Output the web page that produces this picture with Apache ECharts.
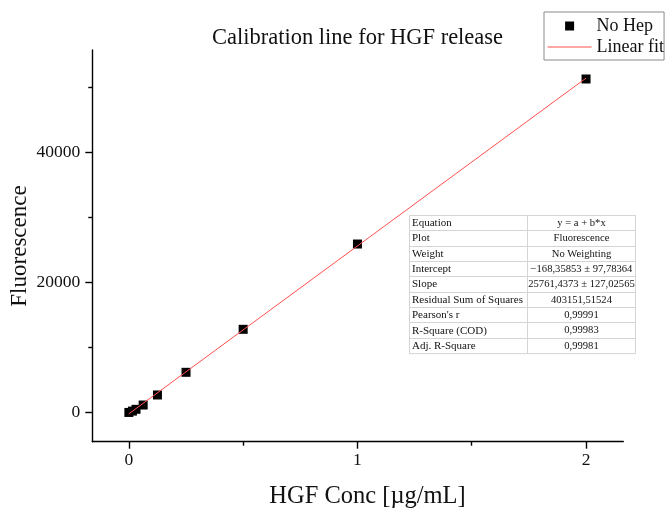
<!DOCTYPE html>
<html>
<head>
<meta charset="utf-8">
<script src="https://cdn.jsdelivr.net/npm/echarts@6/dist/echarts.min.js"></script>
<style>
  html, body { margin: 0; padding: 0; background: #fff; }
  #chart { width: 665px; height: 513px; }
</style>
</head>
<body>
<div id="chart"></div>
<script>
// Standard dilution series (µg/mL) and measured fluorescence
const conc = [0, 0.015625, 0.03125, 0.0625, 0.125, 0.25, 0.5, 1, 2];
const fluorescence = [40, 250, 520, 1180, 2720, 6200, 12800, 25890, 51220];

// Linear fit parameters y = a + b*x
const fitIntercept = -168.35853;
const fitSlope = 25761.4373;
const fitRange = [0, 2];

// Axis ticks
const xMajorTicks = [0, 1, 2];
const xMinorTicks = [0.5, 1.5];
const yMajorTicks = [0, 20000, 40000];
const yMinorTicks = [10000, 30000, 50000];

// Fit statistics table
const statNames = ['Equation', 'Plot', 'Weight', 'Intercept', 'Slope',
  'Residual Sum of Squares', "Pearson's r", 'R-Square (COD)', 'Adj. R-Square'];
const statValues = ['y = a + b*x', 'Fluorescence', 'No Weighting',
  '\u2212168,35853 \u00b1 97,78364', '25761,4373 \u00b1 127,02565',
  '403151,51524', '0,99991', '0,99983', '0,99981'];

const FONT = '"Liberation Serif", "DejaVu Serif", serif';
const FIT_COLOR = '#ff5050';

const scatterData = conc.map((x, i) => [x, fluorescence[i]]);
const fitData = fitRange.map(x => [x, fitIntercept + fitSlope * x]);

// Table drawn as a graphic group
const tbl = { x: 409, y: 215, w: 226, col: 118, rowH: 15.35 };
const tableChildren = [];
tableChildren.push({
  type: 'rect',
  shape: { x: tbl.x + 0.5, y: tbl.y + 0.5, width: tbl.w, height: tbl.rowH * statNames.length },
  style: { fill: '#fff', stroke: '#d4d4d4', lineWidth: 1 }
});
for (let i = 1; i < statNames.length; i++) {
  const yy = Math.round(tbl.y + i * tbl.rowH) + 0.5;
  tableChildren.push({
    type: 'line',
    shape: { x1: tbl.x, y1: yy, x2: tbl.x + tbl.w, y2: yy },
    style: { stroke: '#d4d4d4', lineWidth: 1 }
  });
}
tableChildren.push({
  type: 'line',
  shape: { x1: tbl.x + tbl.col + 0.5, y1: tbl.y, x2: tbl.x + tbl.col + 0.5, y2: tbl.y + tbl.rowH * statNames.length },
  style: { stroke: '#d4d4d4', lineWidth: 1 }
});
statNames.forEach((name, i) => {
  const cy = tbl.y + (i + 0.5) * tbl.rowH + 0.5;
  tableChildren.push({
    type: 'text', x: tbl.x + 3, y: cy,
    style: { text: name, font: '11px ' + FONT, fill: '#111', textVerticalAlign: 'middle', textAlign: 'left' }
  });
  tableChildren.push({
    type: 'text', x: tbl.x + tbl.col + (tbl.w - tbl.col) / 2 + 0.5, y: cy,
    style: { text: statValues[i], font: '10.6px ' + FONT, fill: '#111', textVerticalAlign: 'middle', textAlign: 'center' }
  });
});

const chart = echarts.init(document.getElementById('chart'), null, { renderer: 'canvas' });

const xRange = { min: -0.16, max: 2.163 };
const yRange = { min: -4450, max: 55670 };
const plainNumber = v => String(v);

chart.setOption({
  animation: false,
  backgroundColor: '#fff',
  grid: { left: 92.3, right: 41.7, top: 50, bottom: 71.3, containLabel: false },
  xAxis: [
    {
      type: 'value', position: 'bottom', min: xRange.min, max: xRange.max,
      splitLine: { show: false },
      axisLine: { show: true, onZero: false, lineStyle: { color: '#000', width: 1.4 } },
      axisTick: { show: true, inside: false, length: 7, customValues: xMajorTicks, lineStyle: { color: '#000', width: 1.4 } },
      axisLabel: { show: true, margin: 10, customValues: xMajorTicks, formatter: plainNumber, color: '#111', fontFamily: FONT, fontSize: 17.5 }
    },
    {
      type: 'value', position: 'bottom', min: xRange.min, max: xRange.max,
      splitLine: { show: false },
      axisLine: { show: false, onZero: false },
      axisTick: { show: true, length: 4, customValues: xMinorTicks, lineStyle: { color: '#000', width: 1.4 } },
      axisLabel: { show: false }
    }
  ],
  yAxis: [
    {
      type: 'value', position: 'left', min: yRange.min, max: yRange.max,
      splitLine: { show: false },
      axisLine: { show: true, onZero: false, lineStyle: { color: '#000', width: 1.4 } },
      axisTick: { show: true, length: 7, customValues: yMajorTicks, lineStyle: { color: '#000', width: 1.4 } },
      axisLabel: { show: true, margin: 12, customValues: yMajorTicks, formatter: plainNumber, color: '#111', fontFamily: FONT, fontSize: 17.5 }
    },
    {
      type: 'value', position: 'left', min: yRange.min, max: yRange.max,
      splitLine: { show: false },
      axisLine: { show: false, onZero: false },
      axisTick: { show: true, length: 4, customValues: yMinorTicks, lineStyle: { color: '#000', width: 1.4 } },
      axisLabel: { show: false }
    }
  ],
  legend: {
    orient: 'vertical',
    left: 544, top: 12,
    itemWidth: 44, itemHeight: 9, itemGap: 3,
    padding: [5, 0, 4, 3],
    borderColor: '#8a8a8a', borderWidth: 1,
    textStyle: { fontFamily: FONT, fontSize: 18, color: '#111' },
    symbolKeepAspect: true,
    data: [
      { name: 'No Hep', icon: 'path://M0,0L10,0L10,10L0,10Z', itemStyle: { color: '#000', opacity: 1 } },
      {
        name: 'Linear fit',
        itemStyle: { opacity: 0 },
        lineStyle: { color: FIT_COLOR, width: 1.2, opacity: 1 }
      }
    ]
  },
  graphic: [
    {
      type: 'text', x: 357.5, y: 38,
      style: { text: 'Calibration line for HGF release', font: '22.5px ' + FONT, fill: '#111', textAlign: 'center', textVerticalAlign: 'middle' }
    },
    {
      type: 'text', x: 367.5, y: 497,
      style: { text: 'HGF Conc [\u00b5g/mL]', font: '24.5px ' + FONT, fill: '#111', textAlign: 'center', textVerticalAlign: 'middle' }
    },
    {
      type: 'text', x: 20, y: 246, rotation: Math.PI / 2,
      style: { text: 'Fluorescence', font: '23px ' + FONT, fill: '#111', textAlign: 'center', textVerticalAlign: 'middle' }
    },
    { type: 'group', children: tableChildren }
  ],
  series: [
    {
      name: 'No Hep', type: 'scatter', xAxisIndex: 0, yAxisIndex: 0,
      symbol: 'rect', symbolSize: 9,
      itemStyle: { color: '#000', opacity: 1, borderWidth: 0 },
      data: scatterData, z: 3
    },
    {
      name: 'Linear fit', type: 'line', xAxisIndex: 0, yAxisIndex: 0,
      showSymbol: false, symbol: 'none',
      color: FIT_COLOR,
      lineStyle: { color: FIT_COLOR, width: 1 },
      itemStyle: { color: FIT_COLOR },
      data: fitData, z: 4
    }
  ]
});
</script>
</body>
</html>
